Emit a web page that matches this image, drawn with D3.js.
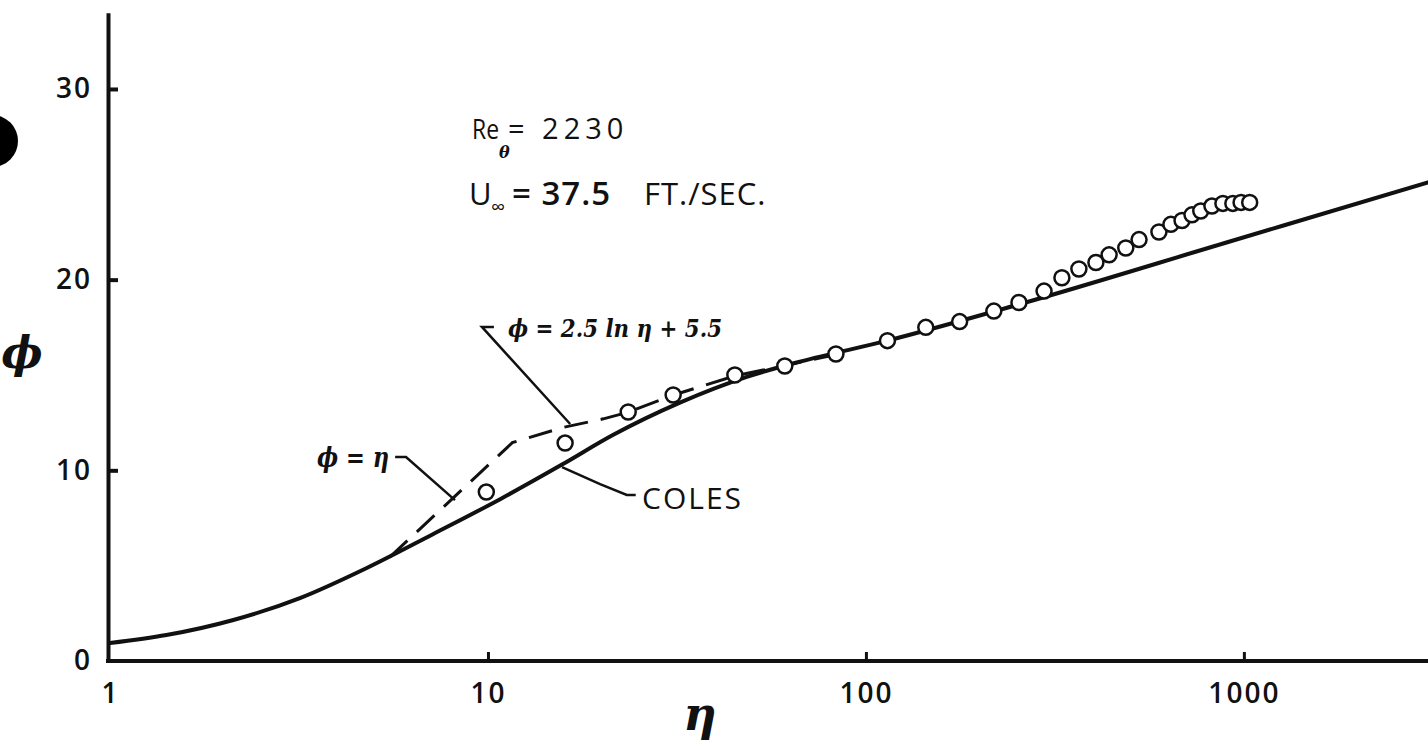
<!DOCTYPE html>
<html>
<head>
<meta charset="utf-8">
<script src="https://cdn.jsdelivr.net/npm/d3@7"></script>
<style>
  html, body { margin: 0; padding: 0; background: #fff; }
  svg { display: block; }
  .lbl { font-family: "Open Sans", "DejaVu Sans", sans-serif; fill: #111; }
  .hand { font-family: "DejaVu Serif", serif; font-style: italic; font-weight: bold; fill: #111; }
</style>
</head>
<body>
<svg id="chart" width="1428" height="756"></svg>
<script>
// Values (eta on log axis, phi linear)
const xTicks = [1, 10, 100, 1000];
const yTicks = [0, 10, 20, 30];

// measured profile (open circles)
const dataEta = [9.9, 16.0, 23.5, 30.9, 45, 61, 83.3, 114, 144, 177, 218, 254, 296, 330, 366,
                 406, 440, 487, 528, 596, 641, 686, 729, 769, 823, 880, 935, 983, 1036];
const dataPhi = [8.86, 11.43, 13.06, 13.95, 15.0, 15.47, 16.1, 16.8, 17.5, 17.8, 18.35, 18.8, 19.4, 20.1, 20.56,
                 20.9, 21.3, 21.66, 22.1, 22.5, 22.9, 23.1, 23.4, 23.6, 23.86, 24.0, 24.0, 24.05, 24.05];

// Coles curve (solid)
const colesEta = [1, 1.41, 2.12, 3.18, 4.78, 7.15, 10.8, 15.7, 21.4, 32.2, 48.4, 66.9, 114, 254, 918, 3070];
const colesPhi = [0.94, 1.36, 2.15, 3.3, 4.88, 6.65, 8.5, 10.3, 11.85, 13.55, 14.9, 15.7, 16.8, 18.7, 22.0, 25.1];

// phi = eta, then phi = 2.5 ln eta + 5.5 (dashed)
const dashEta = [5.5, 11.6, 15.8, 20.2, 23.5, 31, 45, 61, 85];
const dashPhi = [5.45, 11.45, 12.25, 12.7, 13.05, 13.95, 14.95, 15.5, 16.1];

const svg = d3.select("#chart");

const x = d3.scaleLog().domain([1, 3070]).range([110, 1428]);
const y = d3.scaleLinear().domain([0, 34]).range([661, 12.7]);

// hole punch on the scanned sheet
svg.append("circle").attr("cx", -8).attr("cy", 141).attr("r", 26).attr("fill", "#000");

// axes
const yAxis = d3.axisLeft(y).tickValues(yTicks).tickSizeInner(-10).tickSizeOuter(0).tickPadding(16);
const gy = svg.append("g").attr("transform", "translate(108,0)").call(yAxis);
gy.select(".domain").attr("stroke", "#111").attr("stroke-width", 4);
gy.selectAll(".tick line").attr("stroke", "#111").attr("stroke-width", 4)
  .attr("display", d => d === 0 ? "none" : null);
gy.selectAll(".tick text").attr("class", "lbl").attr("font-size", 28).attr("font-family", null)
  .attr("font-weight", 600).attr("letter-spacing", 2);

const xAxis = d3.axisBottom(x).tickValues(xTicks).tickFormat(d3.format("d"))
  .tickSizeInner(-9).tickSizeOuter(0).tickPadding(22);
const gx = svg.append("g").attr("transform", "translate(0,661)").call(xAxis);
gx.select(".domain").attr("stroke", "#111").attr("stroke-width", 4)
  .attr("d", `M${x.range()[0] - 4},0H${x.range()[1]}`);
gx.selectAll(".tick line").attr("stroke", "#111").attr("stroke-width", 3)
  .attr("display", d => d === 1 ? "none" : null);
gx.selectAll(".tick text").attr("class", "lbl").attr("font-size", 28).attr("font-family", null)
  .attr("font-weight", 600).attr("letter-spacing", 2);

// axis titles
svg.append("text").attr("class", "hand").attr("x", 22).attr("y", 368)
  .attr("text-anchor", "middle").attr("font-size", 44).text("ϕ");
svg.append("text").attr("class", "hand").attr("x", 700).attr("y", 730)
  .attr("text-anchor", "middle").attr("font-size", 46).text("η");

// Coles curve
svg.append("path")
  .datum(d3.zip(colesEta, colesPhi))
  .attr("fill", "none").attr("stroke", "#111").attr("stroke-width", 4)
  .attr("stroke-linecap", "round")
  .attr("d", d3.line().x(d => x(d[0])).y(d => y(d[1])).curve(d3.curveMonotoneX));

// dashed asymptotes
svg.append("path")
  .datum(d3.zip(dashEta, dashPhi))
  .attr("fill", "none").attr("stroke", "#111").attr("stroke-width", 3)
  .attr("stroke-dasharray", "24,13")
  .attr("d", d3.line().x(d => x(d[0])).y(d => y(d[1])));

// leader lines (data units)
const leader = d3.line().x(d => x(d[0])).y(d => y(d[1]));
const leaders = [
  [[10.37, 17.52], [9.64, 17.52], [16.5, 12.43]],
  [[5.68, 10.70], [6.07, 10.70], [8.18, 8.44]],
  [[15.7, 10.17], [19.8, 9.28], [23.3, 8.71], [24.6, 8.71]]
];
leaders.forEach(p => {
  svg.append("path").attr("d", leader(p))
    .attr("fill", "none").attr("stroke", "#111").attr("stroke-width", 2.5);
});

// measured points
svg.append("g").selectAll("circle")
  .data(d3.zip(dataEta, dataPhi))
  .join("circle")
  .attr("cx", d => x(d[0])).attr("cy", d => y(d[1])).attr("r", 7.5)
  .attr("fill", "#fff").attr("stroke", "#111").attr("stroke-width", 2.5);

// labels
svg.append("text").attr("class", "hand").attr("x", 508).attr("y", 337)
  .attr("font-size", 25).attr("textLength", 214).attr("lengthAdjust", "spacingAndGlyphs")
  .text("ϕ = 2.5 ln η + 5.5");
svg.append("text").attr("class", "hand").attr("x", 317).attr("y", 467)
  .attr("font-size", 28).attr("textLength", 72).attr("lengthAdjust", "spacingAndGlyphs")
  .text("ϕ = η");
svg.append("text").attr("class", "lbl").attr("x", 642).attr("y", 509)
  .attr("font-size", 30).attr("letter-spacing", 2).text("COLES");

// run conditions
svg.append("text").attr("class", "lbl").attr("x", 472).attr("y", 139)
  .attr("font-size", 27).attr("textLength", 27).attr("lengthAdjust", "spacingAndGlyphs").text("Re");
svg.append("text").attr("class", "hand").attr("x", 499).attr("y", 158)
  .attr("font-size", 16).text("θ");
svg.append("text").attr("class", "lbl").attr("x", 508).attr("y", 139)
  .attr("font-size", 29).attr("letter-spacing", 5).text("= 2230");

svg.append("text").attr("class", "lbl").attr("x", 469).attr("y", 205)
  .attr("font-size", 31).text("U");
svg.append("text").attr("class", "lbl").attr("x", 491).attr("y", 214)
  .attr("font-size", 20).text("∞");
svg.append("text").attr("class", "lbl").attr("x", 512).attr("y", 205)
  .attr("font-size", 33).attr("font-weight", 600).attr("letter-spacing", 1).text("= 37.5");
svg.append("text").attr("class", "lbl").attr("x", 644).attr("y", 205)
  .attr("font-size", 31).attr("letter-spacing", 1).text("FT./SEC.");
</script>
</body>
</html>
